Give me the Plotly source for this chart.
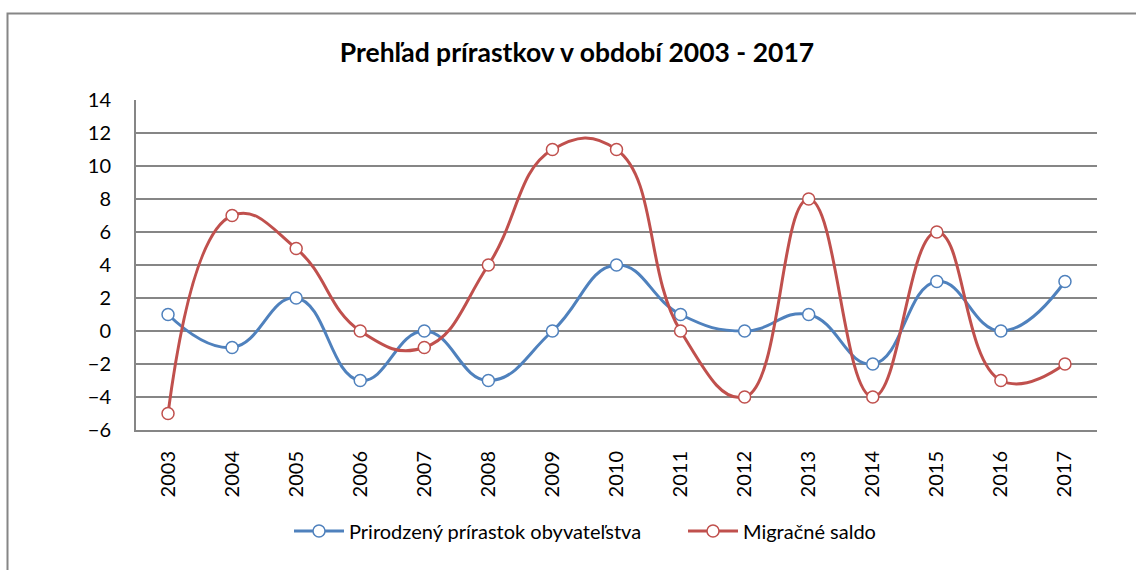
import plotly.graph_objects as go

years = [str(y) for y in range(2003, 2018)]
prirodzeny = [1, -1, 2, -3, 0, -3, 0, 4, 1, 0, 1, -2, 3, 0, 3]
migracne = [-5, 7, 5, 0, -1, 4, 11, 11, 0, -4, 8, -4, 6, -3, -2]
y_ticks = list(range(-6, 15, 2))

series_names = ["Prirodzený prírastok obyvateľstva", "Migračné saldo"]
colors = ["#4F81BD", "#C0504D"]

fig = go.Figure()
for name, vals, col in zip(series_names, [prirodzeny, migracne], colors):
    fig.add_trace(go.Scatter(
        x=years, y=vals, name=name, mode="lines+markers",
        line=dict(color=col, width=3, shape="spline", smoothing=1.3),
        marker=dict(symbol="circle", size=12, color="white",
                    line=dict(color=col, width=1.5)),
    ))

FONT = "Lato, Open Sans, sans-serif"
L, R, T, B = 136, 1097, 100, 430
W, H = 1136, 570
pw, ph = R - L, B - T

def px_x(p):
    return (p - L) / pw

def px_y(p):
    return (B - p) / ph

fig.update_layout(
    width=W, height=H,
    margin=dict(l=L, r=W - R, t=T, b=H - B),
    paper_bgcolor="white", plot_bgcolor="white",
    font=dict(family=FONT, size=20, color="black"),
    title=dict(text="<b>Prehľad prírastkov v období 2003 - 2017</b>",
               x=577 / W, xanchor="center", xref="container",
               y=1 - 53 / H, yanchor="middle", yref="container",
               font=dict(size=26.5, family=FONT, color="black")),
    showlegend=True,
    legend=dict(orientation="h", x=px_x(289), xanchor="left",
                y=px_y(531), yanchor="middle",
                font=dict(size=20, family=FONT), itemwidth=50,
                entrywidth=329, entrywidthmode="pixels",
                traceorder="normal"),
    xaxis=dict(type="category", categoryorder="array", categoryarray=years,
               tickangle=-90, showgrid=False, showline=True,
               linecolor="#868686", linewidth=2, ticks="",
               range=[-0.5, len(years) - 0.5], ticklabelstandoff=11,
               tickfont=dict(size=20, family=FONT)),
    yaxis=dict(range=[-6, 14], tickvals=y_ticks, showgrid=True,
               gridcolor="#868686", gridwidth=1.5, showline=True,
               linecolor="#868686", linewidth=2, zeroline=False,
               ticks="", ticklabelstandoff=19,
               tickfont=dict(size=20, family=FONT)),
    shapes=[dict(type="rect", xref="paper", yref="paper",
                 x0=px_x(7.5), x1=px_x(1200), y0=px_y(13.5), y1=px_y(700),
                 line=dict(color="#868686", width=2), layer="below")],
)

fig.write_html("out.html", config={"displayModeBar": False},
               post_script="document.body.style.margin='0';document.body.style.overflow='hidden';")
